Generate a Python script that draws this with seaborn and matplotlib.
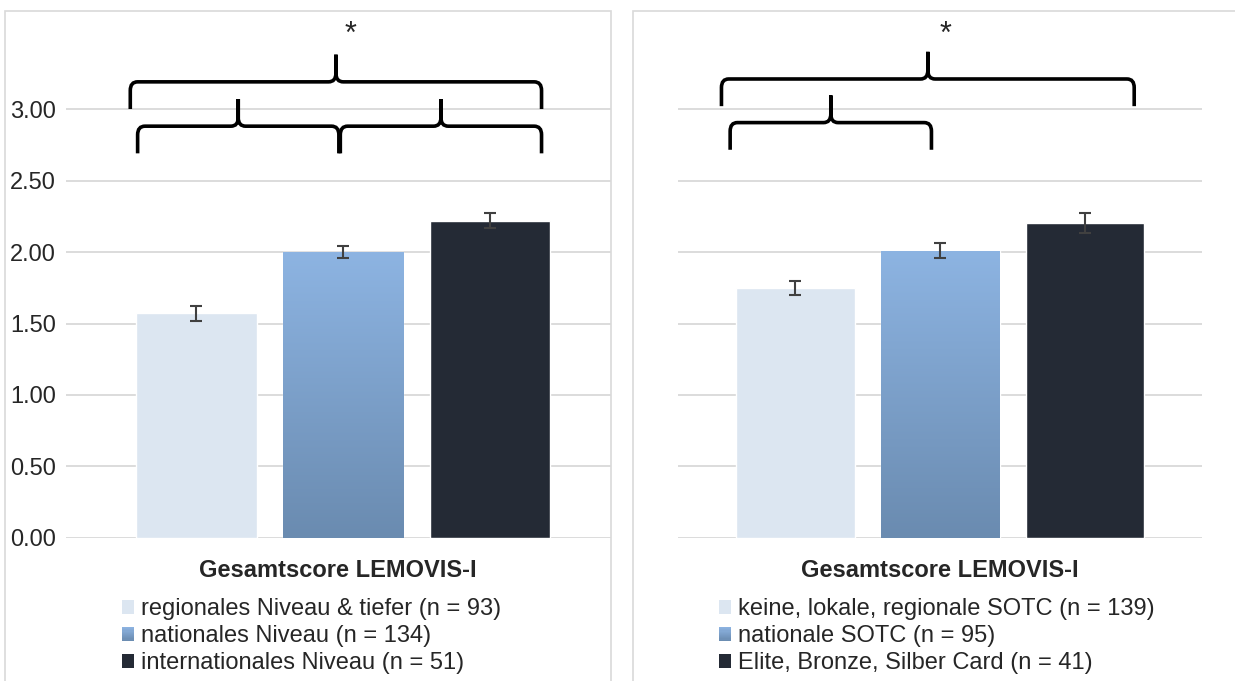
import numpy as np
import pandas as pd
import matplotlib
matplotlib.use("Agg")
import matplotlib.pyplot as plt
import seaborn as sns
from matplotlib.path import Path
from matplotlib.patches import PathPatch, Patch, Rectangle
from matplotlib.legend_handler import HandlerBase

# data
left_groups = ["regionales Niveau & tiefer (n = 93)", "nationales Niveau (n = 134)", "internationales Niveau (n = 51)"]
left_means = [1.57, 2.00, 2.22]
left_err = [0.05, 0.04, 0.05]

right_groups = ["keine, lokale, regionale SOTC (n = 139)", "nationale SOTC (n = 95)", "Elite, Bronze, Silber Card (n = 41)"]
right_means = [1.75, 2.01, 2.20]
right_err = [0.05, 0.05, 0.07]

y_ticks = [0.0, 0.5, 1.0, 1.5, 2.0, 2.5, 3.0]
x_title = "Gesamtscore LEMOVIS-I"

# significance braces: (from, to, bottom of ends) in bar units / data units
left_braces = [(-0.45, 2.35, 3.00), (-0.40, 0.97, 2.69), (0.98, 2.35, 2.69)]
right_braces = [(-0.51, 2.34, 3.02), (-0.45, 0.94, 2.715)]

bar_colors = ["#dce6f1", "#7ea3cf", "#242a35"]
grad_top, grad_bottom = "#8db4e2", "#6a8bb0"

sns.set_theme(style="white")
plt.rcParams["font.family"] = ["Liberation Sans", "DejaVu Sans"]

grad_cmap = matplotlib.colors.LinearSegmentedColormap.from_list("g", [grad_bottom, grad_top])


class GradientHandler(HandlerBase):
    # legend square filled with the same vertical gradient as the middle bar
    def create_artists(self, legend, orig_handle, xdescent, ydescent, width, height, fontsize, trans):
        n = 12
        arts = []
        for i in range(n):
            r = Rectangle((-xdescent, -ydescent + height * i / n), width, height / n + 0.3,
                          facecolor=grad_cmap((i + 0.5) / n), edgecolor="none", transform=trans)
            arts.append(r)
        return arts


class GradPatch(Patch):
    pass


fig = plt.figure(figsize=(12.35, 6.81), dpi=100)

# panel frames
for x0, w in [(0.004, 0.4905), (0.5125, 0.50)]:
    fig.add_artist(Rectangle((x0, -0.02), w, 1.0035, transform=fig.transFigure,
                             fill=False, edgecolor="#d9d9d9", linewidth=1.2))

ax1 = fig.add_axes([0.0534, 0.2100, 0.4410, 0.7559])
ax2 = fig.add_axes([0.5490, 0.2100, 0.4245, 0.7559])


def draw_brace(ax, x0, x1, yb):
    xt = (x0 + x1) / 2
    yh = yb + 0.19
    ytip = yb + 0.38
    rx, ry = 0.05, 0.06
    verts = [(x0, yb), (x0, yh - ry), (x0, yh), (x0 + rx, yh),
             (xt - rx, yh), (xt, yh), (xt, yh + ry), (xt, ytip),
             (xt, yh + ry), (xt, yh), (xt + rx, yh),
             (x1 - rx, yh), (x1, yh), (x1, yh - ry), (x1, yb)]
    codes = [Path.MOVETO, Path.LINETO, Path.CURVE3, Path.CURVE3,
             Path.LINETO, Path.CURVE3, Path.CURVE3, Path.LINETO,
             Path.LINETO, Path.CURVE3, Path.CURVE3,
             Path.LINETO, Path.CURVE3, Path.CURVE3, Path.LINETO]
    ax.add_patch(PathPatch(Path(verts, codes), fill=False, edgecolor="black",
                           linewidth=2.6, clip_on=False, capstyle="butt", zorder=5))


def panel(ax, groups, means, errs, braces, xlim, star_x, show_y):
    df = pd.DataFrame({"group": groups, "mean": means})
    sns.barplot(data=df, x="group", y="mean", hue="group", palette=bar_colors,
                width=0.82, legend=False, ax=ax, saturation=1, zorder=2)
    # gradient fill on middle bar
    bar = ax.patches[1]
    bx, by = bar.get_x(), bar.get_y()
    bw, bh = bar.get_width(), bar.get_height()
    grad = np.linspace(0, 1, 256).reshape(-1, 1)
    im = ax.imshow(grad, extent=[bx, bx + bw, by, by + bh], origin="lower",
                   cmap=grad_cmap, aspect="auto", zorder=3)
    im.set_clip_path(bar)
    ax.errorbar(range(len(means)), means, yerr=errs, fmt="none", ecolor="#404040",
                elinewidth=1.5, capsize=4.5, capthick=1.5, zorder=4)
    for x0, x1, yb in braces:
        draw_brace(ax, x0, x1, yb)
    ax.text(star_x, 3.52, "*", ha="center", va="center", fontsize=22)
    ax.set_xlim(*xlim)
    ax.set_ylim(0, 3.6)
    ax.set_yticks(y_ticks)
    ax.yaxis.grid(True, color="#d9d9d9", linewidth=1.3, zorder=0)
    ax.set_axisbelow(True)
    if show_y:
        ax.set_yticklabels([f"{v:.2f}" for v in y_ticks], fontsize=17)
    else:
        ax.set_yticklabels([])
    ax.tick_params(axis="y", length=0, pad=7)
    ax.set_xticks([])
    ax.set_xlabel(x_title, fontsize=17, fontweight="bold", labelpad=15)
    ax.set_ylabel("")
    sns.despine(ax=ax, left=True, bottom=True)
    handles = [Patch(facecolor=bar_colors[0], edgecolor="none"),
               GradPatch(facecolor=bar_colors[1], edgecolor="none"),
               Patch(facecolor=bar_colors[2], edgecolor="none")]
    return handles


h1 = panel(ax1, left_groups, left_means, left_err, left_braces, (-0.888, 2.82), 1.05, True)
h2 = panel(ax2, right_groups, right_means, right_err, right_braces, (-0.81, 2.81), 1.04, False)

leg_kw = dict(loc="upper left", frameon=False, fontsize=17, borderpad=0, borderaxespad=0,
              handlelength=0.52, handleheight=0.52, handletextpad=0.3, labelspacing=0.22,
              handler_map={GradPatch: GradientHandler()})
fig.legend(h1, left_groups, bbox_to_anchor=(122 / 1235, 1 - 598 / 681), **leg_kw)
fig.legend(h2, right_groups, bbox_to_anchor=(719 / 1235, 1 - 598 / 681), **leg_kw)

fig.savefig("out.png", dpi=100)
